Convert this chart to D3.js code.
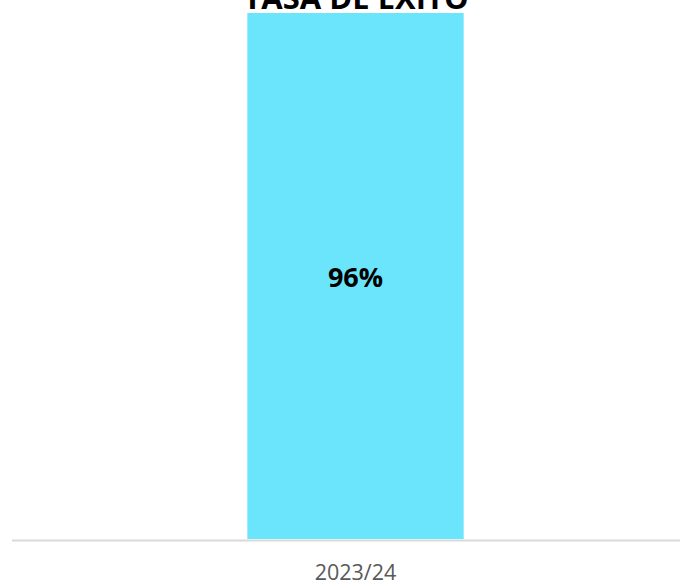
<!DOCTYPE html>
<html>
<head>
<meta charset="utf-8">
<script src="https://cdn.jsdelivr.net/npm/d3@7"></script>
<style>
  body { margin: 0; background: #fff; }
  svg { display: block; font-family: "Open Sans", sans-serif; }
</style>
</head>
<body>
<svg id="chart"></svg>
<script>
const width = 680;
const height = 585;

// data
const categories = ["2023/24"];
const values = [0.96];
const title = "TASA DE ÉXITO";

const svg = d3.select("#chart").attr("width", width).attr("height", height);

const x = d3.scaleBand()
    .domain(categories)
    .range([31, 680])
    .padding(0.5);

const y = d3.scaleLinear()
    .domain([0, 0.96])
    .range([539, 13]);

svg.append("g")
    .selectAll("rect")
    .data(categories)
    .enter().append("rect")
    .attr("x", d => x(d))
    .attr("width", x.bandwidth())
    .attr("y", (d, i) => y(values[i]))
    .attr("height", (d, i) => y(0) - y(values[i]))
    .attr("fill", "#6ae5fb");

// baseline
svg.append("line")
    .attr("x1", 12).attr("x2", 680)
    .attr("y1", y(0) + 1.5).attr("y2", y(0) + 1.5)
    .attr("stroke", "#d9d9d9")
    .attr("stroke-width", 2);

// value labels
svg.append("g")
    .selectAll("text")
    .data(categories)
    .enter().append("text")
    .attr("x", d => x(d) + x.bandwidth() / 2)
    .attr("y", 287)
    .attr("text-anchor", "middle")
    .attr("font-size", "27px")
    .attr("font-weight", "bold")
    .attr("fill", "#000")
    .text((d, i) => d3.format(".0%")(values[i]));

// category labels
svg.append("g")
    .selectAll("text")
    .data(categories)
    .enter().append("text")
    .attr("x", d => x(d) + x.bandwidth() / 2)
    .attr("y", 580)
    .attr("text-anchor", "middle")
    .attr("font-size", "21.5px")
    .attr("fill", "#595959")
    .text(d => d);

// title, cut off at the top as in the source
svg.append("text")
    .attr("x", 356)
    .attr("y", 9)
    .attr("text-anchor", "middle")
    .attr("font-size", "31px")
    .attr("font-weight", "bold")
    .attr("fill", "#000")
    .text(title);
</script>
</body>
</html>
